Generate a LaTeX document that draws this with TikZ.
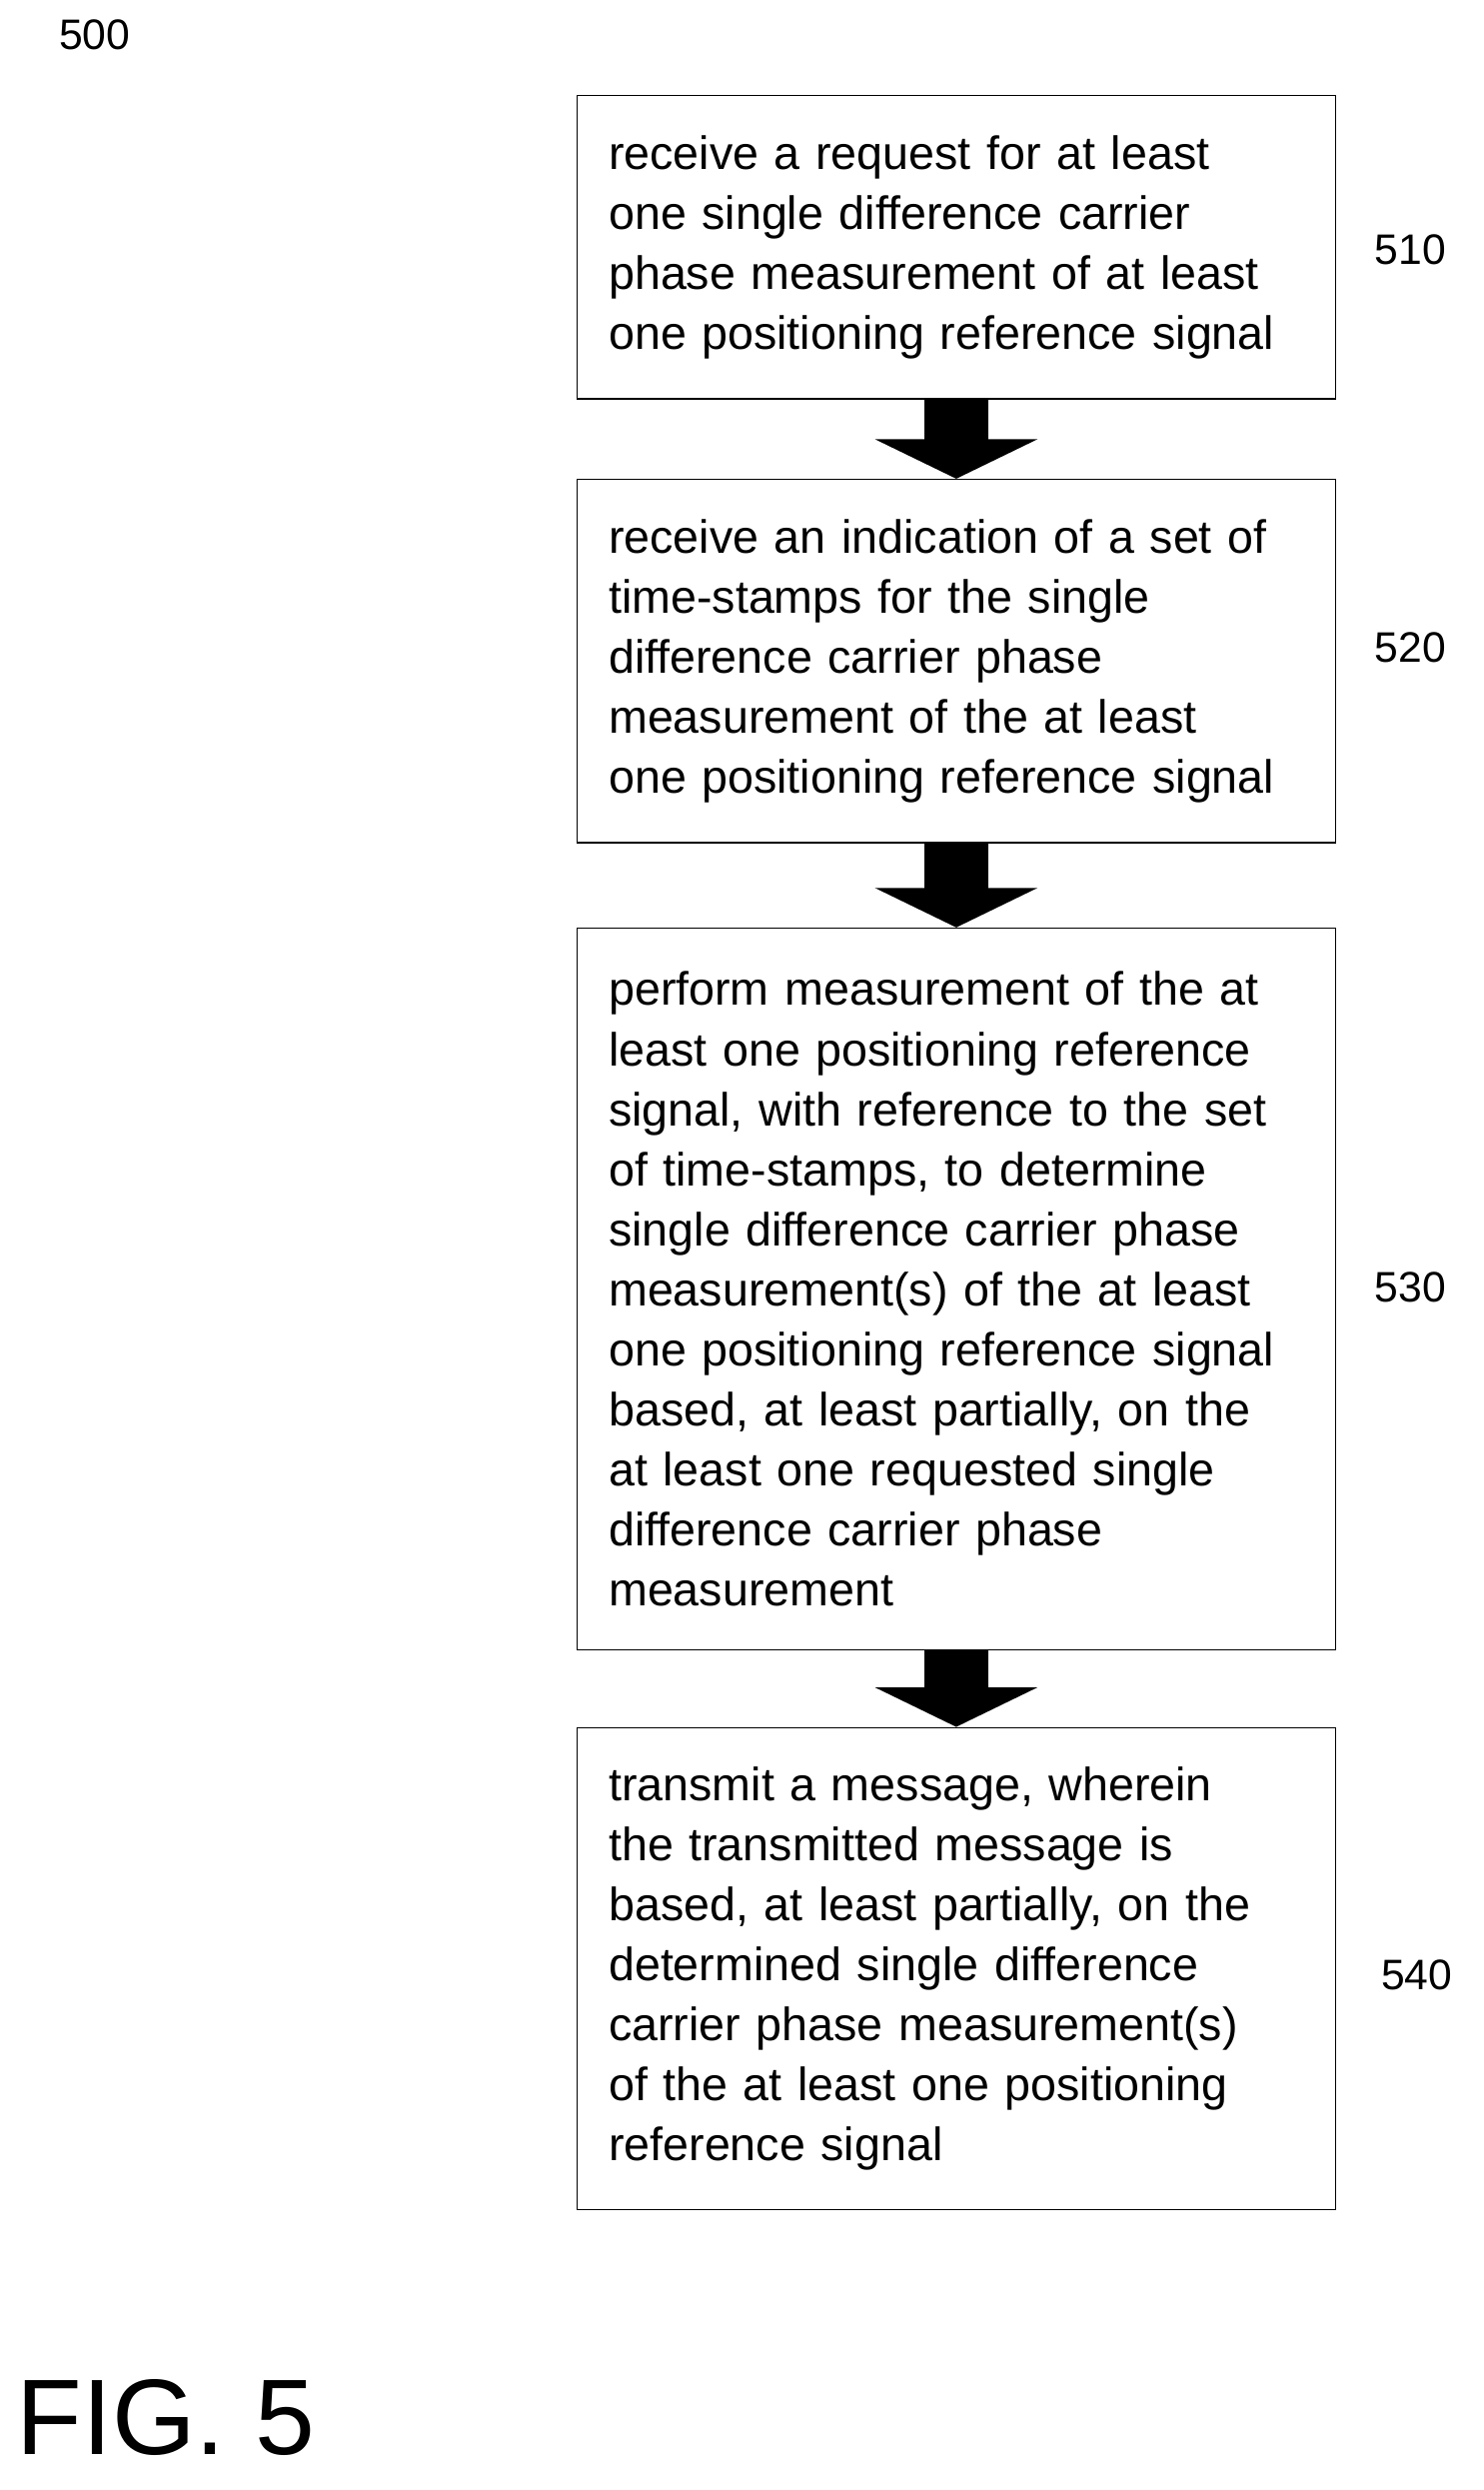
\documentclass[tikz,border=0pt]{standalone}
\usepackage{fontspec}
\setmainfont{Liberation Sans}
\usetikzlibrary{positioning, arrows.meta, calc}
\begin{document}
\begin{tikzpicture}[x=1pt, y=1pt,
    stepbox/.style={draw, thick, align=left, anchor=north west, inner xsep=20pt,
      font=\fontsize{29.5}{38}\selectfont},
    reflabel/.style={font=\fontsize{27}{30}\selectfont},
    blockarrow/.style={line width=40pt, -{Triangle[width=102pt, length=25pt]}}]
    \useasboundingbox (0,0) rectangle (939,-1576);

    \node[reflabel] (fig) at (60,-22) {500};

    % Steps
    \node[stepbox, minimum width=473pt, minimum height=192pt, text width=440pt] (s510) at (365,-60)
      {receive a request for at least\\one single difference carrier\\phase measurement of at least\\one positioning reference signal};
    \node[stepbox, minimum width=475pt, minimum height=230pt, text width=440pt] (s520) at (365,-303)
      {receive an indication of a set of\\time-stamps for the single\\difference carrier phase\\measurement of the at least\\one positioning reference signal};
    \node[stepbox, minimum width=475pt, minimum height=457pt, text width=440pt] (s530) at (365,-587)
      {perform measurement of the at\\least one positioning reference\\signal, with reference to the set\\of time-stamps, to determine\\single difference carrier phase\\measurement(s) of the at least\\one positioning reference signal\\based, at least partially, on the\\at least one requested single\\difference carrier phase\\measurement};
    \node[stepbox, minimum width=475pt, minimum height=305pt, text width=440pt] (s540) at (365,-1093)
      {transmit a message, wherein\\the transmitted message is\\based, at least partially, on the\\determined single difference\\carrier phase measurement(s)\\of the at least one positioning\\reference signal};

    % Labels
    \node[reflabel] (l510) at (893,-158) {510};
    \node[reflabel] (l520) at (893,-410) {520};
    \node[reflabel] (l530) at (893,-815) {530};
    \node[reflabel] (l540) at (897,-1250) {540};

    % Arrows
    \draw[blockarrow] (s510.south) -- (s520.north);
    \draw[blockarrow] (s520.south) -- (s530.north);
    \draw[blockarrow] (s530.south) -- (s540.north);

    \node[font=\fontsize{68}{70}\selectfont] (title) at (105,-1530) {FIG. 5};
\end{tikzpicture}
\end{document}
